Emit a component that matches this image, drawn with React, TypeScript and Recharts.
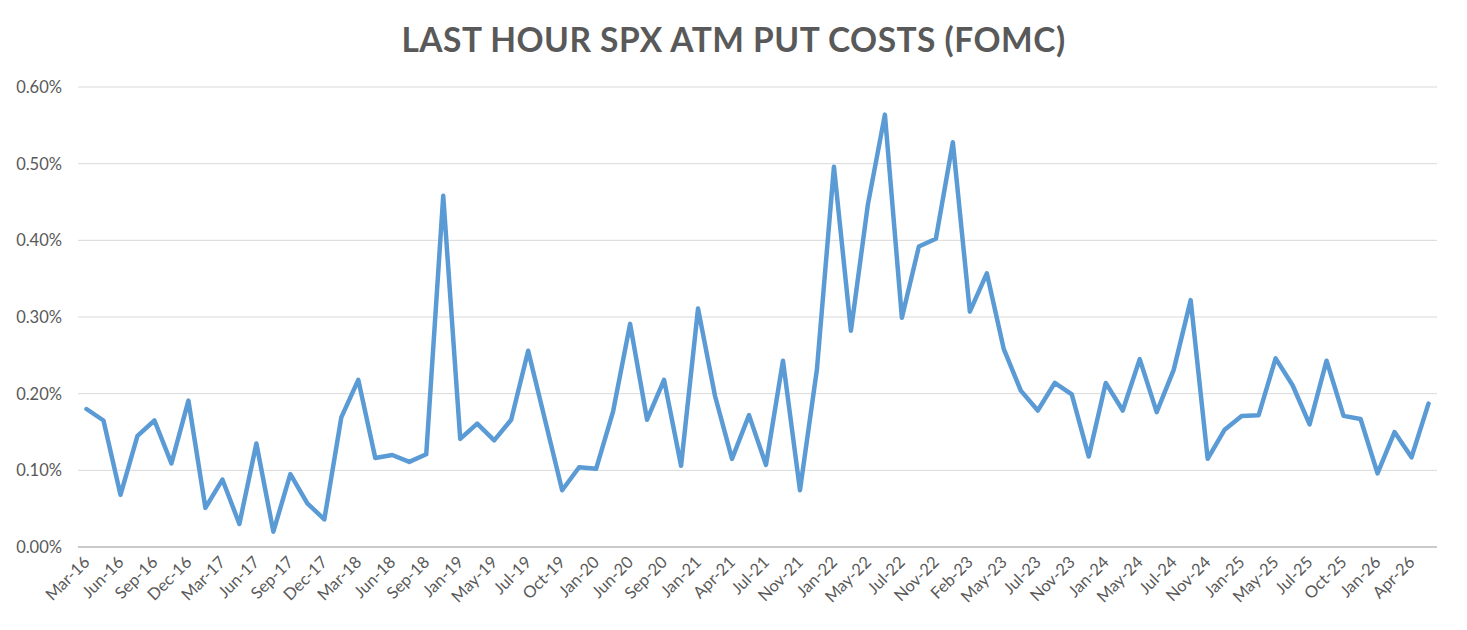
import React from 'react';
import { LineChart, Line, XAxis, YAxis, CartesianGrid } from 'recharts';

// FOMC meeting dates (one point per meeting)
const meetings = [
  'Mar-16', 'Apr-16', 'Jun-16', 'Jul-16', 'Sep-16', 'Nov-16', 'Dec-16',
  'Feb-17', 'Mar-17', 'May-17', 'Jun-17', 'Jul-17', 'Sep-17', 'Nov-17', 'Dec-17',
  'Jan-18', 'Mar-18', 'May-18', 'Jun-18', 'Aug-18', 'Sep-18', 'Dec-18',
  'Jan-19', 'Mar-19', 'May-19', 'Jun-19', 'Jul-19', 'Sep-19', 'Oct-19', 'Dec-19',
  'Jan-20', 'Mar-20', 'Jun-20', 'Jul-20', 'Sep-20', 'Dec-20',
  'Jan-21', 'Mar-21', 'Apr-21', 'Jun-21', 'Jul-21', 'Sep-21', 'Nov-21', 'Dec-21',
  'Jan-22', 'Mar-22', 'May-22', 'Jun-22', 'Jul-22', 'Sep-22', 'Nov-22', 'Dec-22',
  'Feb-23', 'Mar-23', 'May-23', 'Jun-23', 'Jul-23', 'Sep-23', 'Nov-23', 'Dec-23',
  'Jan-24', 'Mar-24', 'May-24', 'Jun-24', 'Jul-24', 'Sep-24', 'Nov-24', 'Dec-24',
  'Jan-25', 'Mar-25', 'May-25', 'Jun-25', 'Jul-25', 'Sep-25', 'Oct-25', 'Dec-25',
  'Jan-26', 'Mar-26', 'Apr-26', 'Jun-26',
];

// put cost, in percent of spot
const putCost = [
  0.180, 0.165, 0.068, 0.145, 0.165, 0.109, 0.191,
  0.051, 0.088, 0.030, 0.135, 0.020, 0.095, 0.057, 0.036,
  0.169, 0.218, 0.116, 0.120, 0.111, 0.121, 0.458,
  0.141, 0.161, 0.139, 0.166, 0.256, 0.165, 0.074, 0.104,
  0.102, 0.177, 0.291, 0.166, 0.218, 0.106,
  0.311, 0.197, 0.115, 0.172, 0.107, 0.243, 0.074, 0.232,
  0.496, 0.282, 0.447, 0.564, 0.299, 0.392, 0.402, 0.528,
  0.307, 0.357, 0.258, 0.204, 0.178, 0.214, 0.199, 0.118,
  0.214, 0.178, 0.245, 0.176, 0.231, 0.322, 0.115, 0.153,
  0.171, 0.172, 0.246, 0.211, 0.160, 0.243, 0.171, 0.167,
  0.096, 0.150, 0.117, 0.187,
];

const yTicks = [0, 0.1, 0.2, 0.3, 0.4, 0.5, 0.6];

const data = meetings.map((m, i) => ({ date: m, cost: putCost[i] }));

const FONT = 'Lato, "Open Sans", sans-serif';
const GREY = '#595959';

const XTick = (props: any) => {
  const { x, y, payload } = props;
  return (
    <text
      x={x}
      y={y}
      transform={`rotate(-45, ${x}, ${y})`}
      textAnchor="end"
      dominantBaseline="central"
      fill={GREY}
      fontSize={16.5}
      fontFamily={FONT}
    >
      {payload.value}
    </text>
  );
};

export default function App() {
  return (
    <div style={{ position: 'absolute', left: 0, top: 0, width: 1467, height: 630, background: '#fff' }}>
      <div
        style={{
          position: 'absolute', left: 0, top: 19, width: 1467, textAlign: 'center',
          fontFamily: FONT, fontWeight: 700, fontSize: 33.5, color: GREY, letterSpacing: 0.5,
        }}
      >
        LAST HOUR SPX ATM PUT COSTS (FOMC)
      </div>
      <LineChart
        width={1467}
        height={630}
        data={data}
        margin={{ top: 87, right: 30, bottom: 8, left: 8 }}
      >
        <CartesianGrid vertical={false} stroke="#d9d9d9" strokeWidth={1} />
        <XAxis
          dataKey="date"
          interval={1}
          height={75}
          padding={{ left: 8.5, right: 8.5 }}
          tickLine={false}
          axisLine={{ stroke: '#bfbfbf', strokeWidth: 1.5 }}
          tick={<XTick />}
          tickSize={0}
          tickMargin={12}
        />
        <YAxis
          width={70}
          domain={[0, 0.6]}
          ticks={yTicks}
          tickFormatter={(v: number) => v.toFixed(2) + '%'}
          axisLine={false}
          tickLine={false}
          tickSize={0}
          tickMargin={16}
          tick={{ fill: GREY, fontSize: 16.5, fontFamily: FONT }}
        />
        <Line
          type="linear"
          dataKey="cost"
          stroke="#5b9bd5"
          strokeWidth={4.5}
          strokeLinejoin="round"
          strokeLinecap="round"
          dot={false}
          isAnimationActive={false}
        />
      </LineChart>
    </div>
  );
}
